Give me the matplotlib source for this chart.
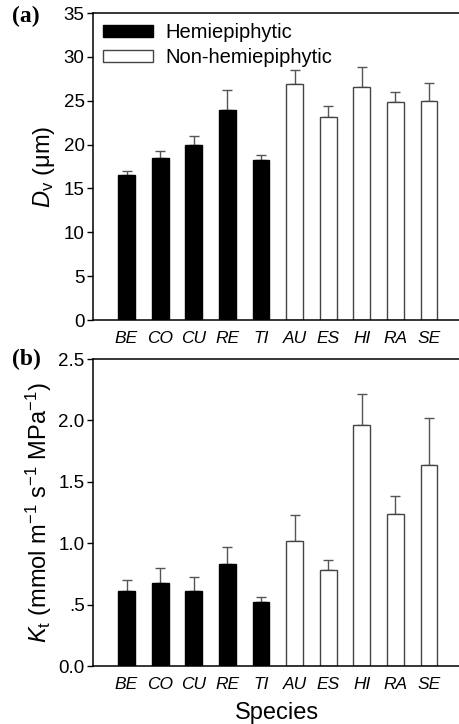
import matplotlib
matplotlib.use('Agg')
import matplotlib.pyplot as plt
import numpy as np

plt.rcParams['font.family'] = ['Liberation Sans', 'DejaVu Sans']
plt.rcParams['mathtext.fontset'] = 'custom'
plt.rcParams['mathtext.rm'] = 'Liberation Sans'
plt.rcParams['mathtext.it'] = 'Liberation Sans:italic'

# species codes, hemiepiphytes first
species = ['BE', 'CO', 'CU', 'RE', 'TI', 'AU', 'ES', 'HI', 'RA', 'SE']
isHemi = [True, True, True, True, True, False, False, False, False, False]

# vessel diameter (um) and its standard error
dvMean = [16.5, 18.5, 20.0, 23.9, 18.3, 26.9, 23.1, 26.6, 24.8, 25.0]
dvErr = [0.5, 0.8, 1.0, 2.3, 0.5, 1.6, 1.3, 2.2, 1.2, 2.0]

# leaf hydraulic conductance and its standard error
ktMean = [0.61, 0.675, 0.615, 0.83, 0.52, 1.02, 0.785, 1.96, 1.24, 1.64]
ktErr = [0.09, 0.125, 0.11, 0.14, 0.045, 0.21, 0.075, 0.255, 0.145, 0.38]

dvTicks = [0, 5, 10, 15, 20, 25, 30, 35]
ktTicks = [0.0, 0.5, 1.0, 1.5, 2.0, 2.5]
ktTickLabels = ['0.0', '.5', '1.0', '1.5', '2.0', '2.5']

fig = plt.figure(figsize=(4.6, 7.24), dpi=100, facecolor='white')
axA = fig.add_axes([0.202, 0.558, 0.80, 0.424])
axB = fig.add_axes([0.202, 0.080, 0.80, 0.424])

x = np.arange(len(species))
faces = ['black' if h else 'white' for h in isHemi]
edges = ['black' if h else '#444444' for h in isHemi]


def drawBars(ax, means, errs):
    bars = ax.bar(x, means, width=0.5, color=faces, edgecolor=edges,
                  linewidth=1.0, zorder=2)
    ax.errorbar(x, means, yerr=[np.zeros(len(errs)), errs], fmt='none',
                ecolor='#555555', elinewidth=1.0, capsize=3.5,
                capthick=1.0, zorder=1)
    ax.set_xlim(-1.0, 9.95)
    ax.set_xticks(x)
    ax.set_xticklabels(species, fontstyle='italic', fontsize=12.5)
    ax.tick_params(axis='x', length=0, pad=8)
    ax.tick_params(axis='y', direction='out', length=4, width=1,
                   labelsize=13.5, pad=2)
    ax.spines['right'].set_visible(False)
    for s in ['left', 'top', 'bottom']:
        ax.spines[s].set_linewidth(1.1)
    return bars


barsA = drawBars(axA, dvMean, dvErr)
axA.set_ylim(0, 35)
axA.set_yticks(dvTicks)
axA.set_ylabel(r'$\mathit{D}_\mathrm{v}$ (μm)', fontsize=17, labelpad=5)
axA.legend([barsA[0], barsA[5]], ['Hemiepiphytic', 'Non-hemiepiphytic'],
           loc='upper left', frameon=False, fontsize=14.5,
           handlelength=2.5, handleheight=0.5, labelspacing=0.3,
           handletextpad=0.6, borderaxespad=0.3, borderpad=0.2)

drawBars(axB, ktMean, ktErr)
axB.set_ylim(0, 2.5)
axB.set_yticks(ktTicks)
axB.set_yticklabels(ktTickLabels)
axB.set_ylabel(r'$\mathit{K}_\mathrm{t}$ (mmol m$^{-1}$ s$^{-1}$ MPa$^{-1}$)',
               fontsize=17, labelpad=3)
axB.set_xlabel('Species', fontsize=17, labelpad=7)

# panel letters
fig.text(0.026, 0.977, '(a)', fontsize=17, fontweight='bold',
         family='Liberation Serif', va='center')
fig.text(0.026, 0.503, '(b)', fontsize=17, fontweight='bold',
         family='Liberation Serif', va='center')

fig.savefig('out.png', dpi=100)
